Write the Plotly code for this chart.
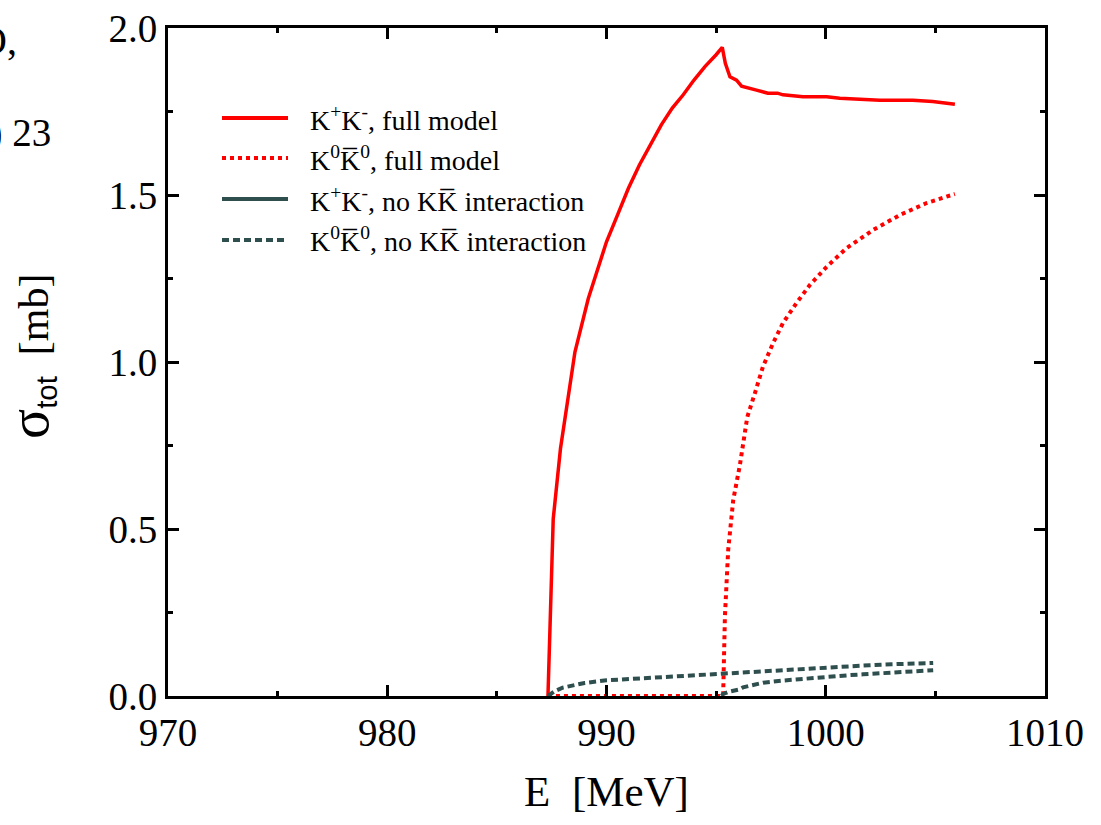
import plotly.graph_objects as go

# Total cross sections sigma_tot [mb] versus energy E [MeV]
E_kk_full = [987.33, 987.38, 987.42, 987.5, 987.57, 987.9, 988.2, 988.56, 989.17, 989.5,
             990.0, 990.5, 991.0, 991.5, 992.0, 992.5, 993.0, 993.5, 994.0, 994.5,
             995.0, 995.28, 995.42, 995.63, 995.93, 996.16, 996.84, 997.36, 997.8,
             998.05, 998.96, 1000.04, 1000.64, 1001.55, 1002.47, 1003.97, 1004.88, 1005.89]
sig_kk_full = [0.0, 0.12, 0.24, 0.40, 0.53, 0.74, 0.88, 1.03, 1.19, 1.26,
               1.36, 1.44, 1.52, 1.59, 1.65, 1.71, 1.76, 1.80, 1.845, 1.885,
               1.92, 1.942, 1.894, 1.854, 1.844, 1.826, 1.814, 1.805, 1.805,
               1.80, 1.794, 1.794, 1.79, 1.786, 1.784, 1.784, 1.78, 1.772]

E_k0_full = [987.33, 989.0, 991.0, 993.0, 995.32, 995.36, 995.4, 995.55, 995.78, 996.08,
             996.42, 996.77, 997.13, 997.6, 998.05, 998.67, 999.28, 1000.04, 1000.95,
             1002.15, 1003.38, 1004.6, 1005.89]
sig_k0_full = [0.0, 0.0, 0.0, 0.0, 0.0, 0.12, 0.237, 0.437, 0.587, 0.69,
               0.835, 0.907, 0.985, 1.057, 1.117, 1.177, 1.231, 1.285, 1.341,
               1.395, 1.44, 1.476, 1.503]

E_kk_free = [987.33, 987.65, 988.0, 988.5, 989.0, 990.0, 991.0, 992.0, 993.0, 994.0,
             995.0, 996.0, 997.0, 998.0, 999.0, 1000.0, 1001.0, 1002.0, 1003.0, 1004.0, 1004.9]
sig_kk_free = [0.0, 0.015, 0.025, 0.033, 0.039, 0.047, 0.051, 0.054, 0.058, 0.063,
               0.067, 0.071, 0.075, 0.078, 0.082, 0.087, 0.089, 0.092, 0.095, 0.097, 0.099]

E_k0_free = [995.25, 995.32, 995.6, 996.08, 996.23, 996.6, 997.15, 998.0, 998.67, 999.5,
             1000.19, 1001.0, 1001.7, 1002.5, 1003.23, 1004.0, 1004.9]
sig_k0_free = [0.0, 0.006, 0.013, 0.02, 0.026, 0.032, 0.040, 0.046, 0.050, 0.054,
               0.058, 0.062, 0.065, 0.068, 0.071, 0.074, 0.077]

legend_labels = [
    "K<sup>+</sup>K<sup>-</sup>, full model",
    "K<sup>0</sup>K\u0305<sup>0</sup>, full model",
    "K<sup>+</sup>K<sup>-</sup>, no KK\u0305 interaction",
    "K<sup>0</sup>K\u0305<sup>0</sup>, no KK\u0305 interaction",
]

RED = "#ff0000"
GREY = "#2f4f4f"
GREY_DASH = "7px,4px"
SERIF = "Times New Roman, Liberation Serif, DejaVu Serif, serif"

fig = go.Figure()
fig.add_trace(go.Scatter(x=E_kk_full, y=sig_kk_full, mode="lines",
                         line=dict(color=RED, width=3.5), showlegend=False))
fig.add_trace(go.Scatter(x=E_k0_full, y=sig_k0_full, mode="lines",
                         line=dict(color=RED, width=4, dash="dot"), showlegend=False))
fig.add_trace(go.Scatter(x=E_kk_free, y=sig_kk_free, mode="lines",
                         line=dict(color=GREY, width=4, dash=GREY_DASH), showlegend=False))
fig.add_trace(go.Scatter(x=E_k0_free, y=sig_k0_free, mode="lines",
                         line=dict(color=GREY, width=4, dash=GREY_DASH), showlegend=False))

# Hand-drawn legend: sample line + label per row
W, H = 1101, 825
L, R, T, B = 168, 56, 28, 129
pw, ph = W - L - R, H - T - B

def px_x(p):
    return (p - L) / pw

def px_y(p):
    return (H - B - p) / ph

rows = [118, 158, 199, 240]
styles = [
    dict(color=RED, width=4),
    dict(color=RED, width=4, dash="dot"),
    dict(color=GREY, width=4),
    dict(color=GREY, width=4, dash=GREY_DASH),
]
for yrow, st, lab in zip(rows, styles, legend_labels):
    fig.add_shape(type="line", xref="paper", yref="paper",
                  x0=px_x(222), x1=px_x(288), y0=px_y(yrow), y1=px_y(yrow), line=st)
    fig.add_annotation(xref="paper", yref="paper", x=px_x(308), y=px_y(yrow),
                       xanchor="left", yanchor="middle", showarrow=False, text=lab,
                       font=dict(family=SERIF, size=28, color="black"))

# Text fragments along the left page edge
fig.add_annotation(xref="paper", yref="paper", x=px_x(19), y=px_y(40),
                   xanchor="right", yanchor="middle", showarrow=False, text="O,",
                   font=dict(family=SERIF, size=40, color="black"))
fig.add_annotation(xref="paper", yref="paper", x=px_x(53), y=px_y(133),
                   xanchor="right", yanchor="middle", showarrow=False, text="0) 23",
                   font=dict(family=SERIF, size=39, color="black"))

# Vertical axis title, placed directly
fig.add_annotation(xref="paper", yref="paper", x=px_x(30), y=px_y(356),
                   xanchor="center", yanchor="middle", showarrow=False, textangle=-90,
                   text='<span style="font-size:56px">σ</span><sub><span style="font-family:Arial">tot</span></sub>\u00a0\u00a0[mb]',
                   font=dict(family=SERIF, size=42, color="black"))

axis_common = dict(
    showline=True, linecolor="black", linewidth=3, mirror="ticks",
    ticks="inside", ticklen=11, tickwidth=3, tickcolor="black",
    showgrid=False, zeroline=False,
    tickfont=dict(family=SERIF, size=39, color="black"),
)

fig.update_xaxes(range=[970, 1010], dtick=10, tick0=970,
                 minor=dict(ticks="inside", ticklen=5, tickwidth=3, dtick=5, tickcolor="black", showgrid=False),
                 title=dict(text="E\u00a0\u00a0[MeV]", font=dict(family=SERIF, size=43, color="black"), standoff=24),
                 **axis_common)
fig.update_yaxes(range=[0, 2], dtick=0.5, tick0=0, tickformat=".1f",
                 minor=dict(ticks="inside", ticklen=5, tickwidth=3, dtick=0.25, tickcolor="black", showgrid=False),
                 **axis_common)

fig.update_layout(
    width=W, height=H,
    font=dict(family=SERIF),
    margin=dict(l=L, r=R, t=T, b=B, autoexpand=False),
    plot_bgcolor="white", paper_bgcolor="white",
    showlegend=False,
)

fig.write_html("out.html")
